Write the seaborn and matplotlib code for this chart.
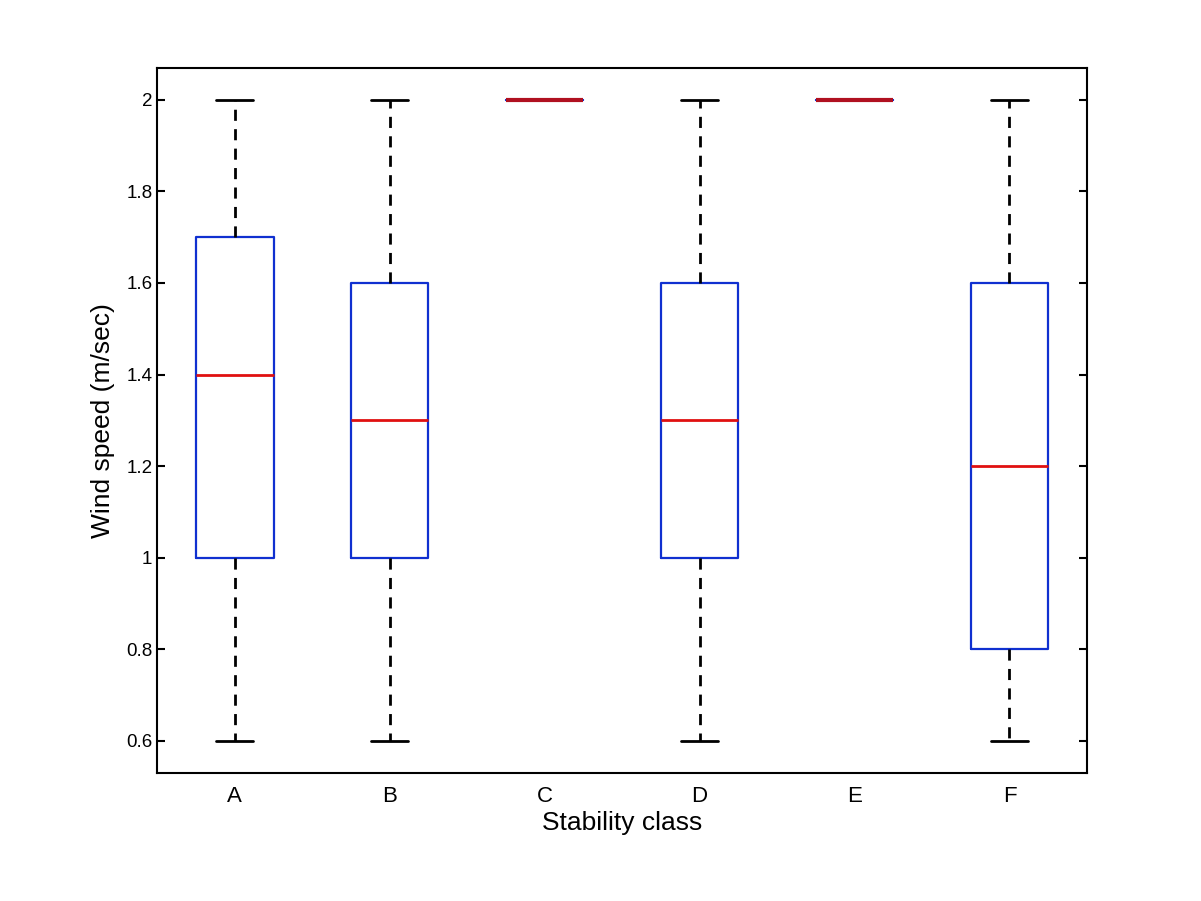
import numpy as np
import pandas as pd
import matplotlib
matplotlib.use("Agg")
import matplotlib.pyplot as plt
import seaborn as sns

# five-number summaries (min, q1, median, q3, max)
classes = ["A", "B", "C", "D", "E", "F"]
vals_A = [0.6, 1.0, 1.4, 1.7, 2.0]
vals_B = [0.6, 1.0, 1.3, 1.6, 2.0]
vals_C = [2.0, 2.0, 2.0, 2.0, 2.0]
vals_D = [0.6, 1.0, 1.3, 1.6, 2.0]
vals_E = [2.0, 2.0, 2.0, 2.0, 2.0]
vals_F = [0.6, 0.8, 1.2, 1.6, 2.0]
yticks = [0.6, 0.8, 1.0, 1.2, 1.4, 1.6, 1.8, 2.0]
ytick_labels = ["0.6", "0.8", "1", "1.2", "1.4", "1.6", "1.8", "2"]

all_vals = [vals_A, vals_B, vals_C, vals_D, vals_E, vals_F]
df = pd.DataFrame({
    "class": [c for c, v in zip(classes, all_vals) for _ in v],
    "speed": [x for v in all_vals for x in v],
})

sns.set_style("white")
plt.rcParams['font.family'] = ['Liberation Sans', 'DejaVu Sans']
plt.rcParams.update({"text.color": "black", "axes.labelcolor": "black",
                     "xtick.color": "black", "ytick.color": "black"})

fig = plt.figure(figsize=(12.01, 9.01), dpi=100)
ax = fig.add_axes([0.131, 0.142, 0.774, 0.783])

sns.boxplot(data=df, x="class", y="speed", order=classes, whis=(0, 100),
            width=0.5, fill=False, ax=ax,
            boxprops=dict(color="#1030d0", linewidth=1.6),
            medianprops=dict(color="#e01010", linewidth=2),
            whiskerprops=dict(color="black", linewidth=2, linestyle=(0, (4, 3))),
            capprops=dict(color="black", linewidth=2),
            capwidths=0.24)

# collapsed boxes (C, E) show as a heavier dark red line in the original
for ln in ax.lines:
    y = ln.get_ydata()
    if len(y) == 2 and y[0] == y[1] == 2.0 and ln.get_color() == "#e01010":
        ln.set_linewidth(3)
        ln.set_color("#b01020")

ax.set_xlim(-0.5, 5.5)
ax.set_ylim(0.53, 2.07)
ax.set_yticks(yticks)
ax.set_yticklabels(ytick_labels, fontsize=13.5)
ax.tick_params(axis="y", direction="in", length=6, width=1.5, left=True, right=True)
ax.tick_params(axis="x", length=0, labelsize=16, pad=9)
for s in ax.spines.values():
    s.set_color("black")
    s.set_linewidth(1.5)
ax.set_xlabel("Stability class", fontsize=19, labelpad=3)
ax.set_ylabel("Wind speed (m/sec)", fontsize=19, labelpad=8)

fig.savefig("out.png", dpi=100, facecolor="white")
